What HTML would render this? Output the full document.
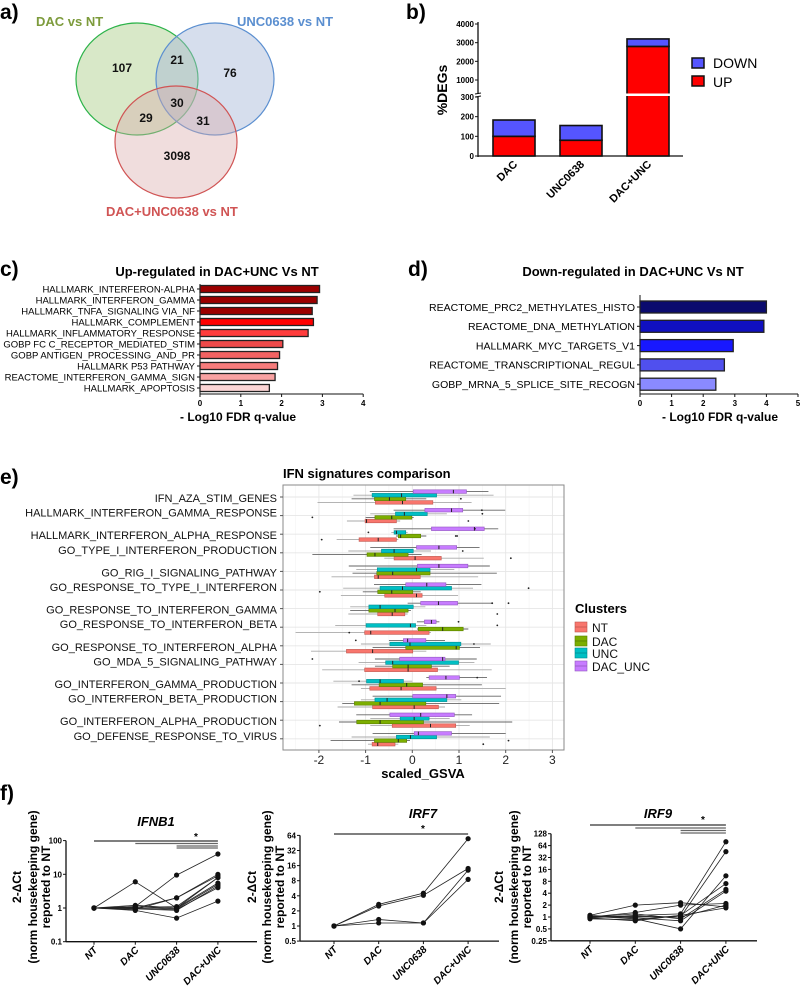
<!DOCTYPE html>
<html><head><meta charset="utf-8"><title>Figure</title>
<style>
html,body{margin:0;padding:0;background:#fff;}
svg{display:block;font-family:"Liberation Sans",Arial,sans-serif;}
</style></head>
<body>
<svg id="fig" width="800" height="990" viewBox="0 0 800 990" xmlns="http://www.w3.org/2000/svg">
<rect x="0" y="0" width="800" height="990" fill="#fff"/>
<text x="0" y="19" font-size="21" font-weight="bold">a)</text>
<text x="406" y="19" font-size="21" font-weight="bold">b)</text>
<text x="0" y="276" font-size="21" font-weight="bold">c)</text>
<text x="408" y="276" font-size="21" font-weight="bold">d)</text>
<text x="0" y="484" font-size="21" font-weight="bold">e)</text>
<text x="0" y="800" font-size="21" font-weight="bold">f)</text>

<g>
<ellipse cx="137" cy="79" rx="61" ry="56" fill="#a9cc84" fill-opacity="0.45" stroke="#2db34a" stroke-width="1.2"/>
<ellipse cx="215" cy="79" rx="59" ry="56" fill="#a3b6d6" fill-opacity="0.45" stroke="#5b8fd0" stroke-width="1.2"/>
<ellipse cx="176" cy="142" rx="61" ry="56" fill="#d9a9a9" fill-opacity="0.4" stroke="#d05454" stroke-width="1.2"/>
<text x="36" y="26" font-size="13" font-weight="bold" fill="#7d9b3c">DAC vs NT</text>
<text x="237" y="26" font-size="13" font-weight="bold" fill="#5b8fd0">UNC0638 vs NT</text>
<text x="106" y="216" font-size="13" font-weight="bold" fill="#d05454">DAC+UNC0638 vs NT</text>
<g font-size="12" font-weight="bold" text-anchor="middle" fill="#111">
<text x="122" y="72">107</text>
<text x="177" y="64">21</text>
<text x="230" y="77">76</text>
<text x="177" y="107">30</text>
<text x="146" y="122">29</text>
<text x="203" y="125">31</text>
<text x="177" y="160">3098</text>
</g>
</g>

<g id="panelB">
<text transform="translate(447,90) rotate(-90)" font-size="14" font-weight="bold" text-anchor="middle">%DEGs</text>
<rect x="692" y="58" width="12" height="10" fill="#5555ff" stroke="#111" stroke-width="1.5"/>
<text x="713" y="68" font-size="14">DOWN</text>
<rect x="692" y="76" width="12" height="10" fill="#ff0000" stroke="#111" stroke-width="1.5"/>
<text x="713" y="87" font-size="14">UP</text>
</g>

<text x="217" y="276" font-size="13" font-weight="bold" text-anchor="middle">Up-regulated in DAC+UNC Vs NT</text>
<text x="633" y="276" font-size="13" font-weight="bold" text-anchor="middle">Down-regulated in DAC+UNC Vs NT</text>
<text x="238" y="421" font-size="12" font-weight="bold" text-anchor="middle">- Log10 FDR q-value</text>
<text x="720" y="421" font-size="12" font-weight="bold" text-anchor="middle">- Log10 FDR q-value</text>
<g id="panelC"></g>
<g id="panelD"></g>

<text x="283" y="478" font-size="13" font-weight="bold">IFN  signatures comparison</text>
<text x="423" y="778" font-size="13" font-weight="bold" text-anchor="middle">scaled_GSVA</text>
<g id="panelE"></g>
<g>
<text x="575" y="613" font-size="13" font-weight="bold">Clusters</text>
<g id="eLegend"></g>
</g>

<g id="panelF"></g>
</svg>
<script>
// ---------- DATA ----------
const bCats = ["DAC", "UNC0638", "DAC+UNC"];
const bUp = [100, 80, 2800];
const bDown = [83, 75, 400];
const bTicksLow = [0, 100, 200, 300];
const bTicksHigh = [1000, 2000, 3000, 4000];

const cLabels = ["HALLMARK_INTERFERON-ALPHA","HALLMARK_INTERFERON_GAMMA","HALLMARK_TNFA_SIGNALING VIA_NF","HALLMARK_COMPLEMENT","HALLMARK_INFLAMMATORY_RESPONSE","GOBP FC C_RECEPTOR_MEDIATED_STIM","GOBP ANTIGEN_PROCESSING_AND_PR","HALLMARK P53 PATHWAY","REACTOME_INTERFERON_GAMMA_SIGN","HALLMARK_APOPTOSIS"];
const cValues = [2.93, 2.87, 2.75, 2.78, 2.65, 2.03, 1.95, 1.90, 1.84, 1.70];
const cTicks = [0, 1, 2, 3, 4];
const dLabels = ["REACTOME_PRC2_METHYLATES_HISTO","REACTOME_DNA_METHYLATION","HALLMARK_MYC_TARGETS_V1","REACTOME_TRANSCRIPTIONAL_REGUL","GOBP_MRNA_5_SPLICE_SITE_RECOGN"];
const dValues = [4.0, 3.92, 2.95, 2.67, 2.4];
const dTicks = [0, 1, 2, 3, 4, 5];

const eCategories = ["IFN_AZA_STIM_GENES","HALLMARK_INTERFERON_GAMMA_RESPONSE","HALLMARK_INTERFERON_ALPHA_RESPONSE","GO_TYPE_I_INTERFERON_PRODUCTION","GO_RIG_I_SIGNALING_PATHWAY","GO_RESPONSE_TO_TYPE_I_INTERFERON","GO_RESPONSE_TO_INTERFERON_GAMMA","GO_RESPONSE_TO_INTERFERON_BETA","GO_RESPONSE_TO_INTERFERON_ALPHA","GO_MDA_5_SIGNALING_PATHWAY","GO_INTERFERON_GAMMA_PRODUCTION","GO_INTERFERON_BETA_PRODUCTION","GO_INTERFERON_ALPHA_PRODUCTION","GO_DEFENSE_RESPONSE_TO_VIRUS"];
const eClusters = ["NT", "DAC", "UNC", "DAC_UNC"];
const eTicks = [-2, -1, 0, 1, 2, 3];
const eNT = [[-0.79,-0.21,0.44,-2.03,1.27],[-1.01,-0.98,-0.34,-1.4,-0.26],[-1.14,-0.73,-0.34,-1.62,-0.3],[-0.39,0.06,0.62,-0.6,1.53],[-0.81,-0.73,0.17,-1.73,1.41],[-0.59,0.09,0.21,-1.53,0.98],[-0.74,-0.43,-0.16,-1.37,-0.1],[-1.02,-0.89,0.36,-2.5,0.4],[-1.41,-0.85,0.01,-2.17,0.3],[-1.02,-0.09,0.54,-1.93,1.7],[-0.91,-0.24,0.51,-1.1,2.0],[-0.85,0.04,0.56,-1.6,0.7],[-0.43,0.39,0.93,-0.9,1.23],[-0.86,-0.74,-0.37,-0.95,-0.3]];
const eDAC = [[-0.81,-0.49,-0.14,-1.3,0.3],[-0.8,-0.44,-0.01,-1.0,0.03],[-0.3,-0.25,0.18,-0.35,0.3],[-0.97,-0.8,-0.09,-2.14,0.2],[-0.76,-0.42,0.38,-1.28,1.81],[-0.74,-0.44,0.01,-1.06,0.18],[-0.93,-0.37,-0.09,-1.33,-0.03],[0.13,0.65,1.09,0.1,1.2],[-0.14,0.94,1.01,-0.85,1.45],[-0.42,-0.09,0.41,-0.8,0.8],[-0.71,-0.12,0.22,-1.3,1.49],[-1.24,-0.69,0.29,-1.5,1.86],[-1.19,-0.69,0.24,-1.57,2.14],[-0.81,-0.3,-0.12,-1.75,-0.05]];
const eUNC = [[-0.86,-0.23,0.52,-1.26,1.74],[-0.36,-0.17,0.32,-0.9,0.74],[-0.39,-0.34,-0.14,-0.45,-0.1],[-0.66,-0.39,0.02,-1.37,0.4],[-0.75,0.09,0.38,-1.2,0.9],[-0.69,-0.21,0.84,-1.48,1.3],[-0.93,-0.69,0.02,-1.33,0.28],[-0.99,-0.04,0.07,-1.65,0.3],[-0.48,-0.05,1.04,-1.1,1.68],[-0.57,-0.42,0.99,-1.15,1.33],[-0.98,-0.69,-0.19,-1.69,0.0],[-0.8,-0.54,0.74,-1.1,1.05],[-0.26,0.04,0.36,-0.9,0.8],[-0.34,-0.04,0.52,-1.3,1.66]];
const eDACUNC = [[0.02,0.88,1.16,-0.91,1.63],[0.27,0.84,1.08,-0.4,1.99],[0.41,1.33,1.54,-0.4,1.84],[0.09,0.57,0.95,-0.9,1.44],[0.11,0.57,1.19,-1.36,1.66],[-0.14,0.31,0.72,-0.82,1.48],[0.18,0.56,0.97,-0.1,1.73],[0.26,0.41,0.51,0.1,0.58],[-0.19,-0.1,0.29,-0.5,0.7],[-0.27,0.65,0.7,-0.8,1.38],[0.36,0.72,1.01,0.3,1.6],[0.01,0.74,0.93,-0.85,1.9],[-0.48,0.18,0.9,-1.2,1.28],[0.04,0.13,0.84,-0.85,2.0]];
const eOutliers = [[0,1,1.04],[1,3,1.49],[1,2,1.5],[1,1,-2.14],[1,0,1.2],[2,3,1.34],[2,2,-0.94],[2,1,0.93],[2,1,0.96],[2,0,-1.94],[3,2,1.08],[3,0,2.11],[5,2,2.49],[5,1,-1.98],[6,3,1.71],[6,3,2.06],[6,0,1.82],[7,3,0.99],[7,2,1.82],[7,0,-1.35],[8,3,-1.21],[8,2,1.32],[9,3,-2.14],[10,3,1.39],[10,2,-1.14],[12,0,-1.98],[13,1,2.06],[13,0,1.52]];

const fCats = ["NT", "DAC", "UNC0638", "DAC+UNC"];
const fIFNB1 = [[1,6,1,8],[1,1.1,9.5,40],[1,1,2,10],[1,0.9,2,9],[1,0.85,0.5,1.6],[1,1.2,1,5.5],[1,1,0.9,4],[1,0.95,0.85,4.5],[1,1.05,1.1,8],[1,1.1,0.95,5]];
const fIRF7 = [[1,2.7,4.5,55],[1,2.5,4.1,14],[1,1.35,1.15,13],[1,1.15,1.15,8.5]];
const fIRF9 = [[1.1,2,2.3,1.8],[1,1.3,2,2.2],[0.95,1.1,1.2,80],[1,1,1,45],[1.05,0.9,0.5,11],[0.9,0.85,1.1,7],[1,1.2,0.9,5],[1.1,0.95,0.8,4.5],[1,1.05,1,2],[0.95,0.8,1.1,1.7]];
const fTicksIFNB1 = ["0.1","1","10","100"];
const fTicksIRF7 = ["0.5","1","2","4","8","16","32","64"];
const fTicksIRF9 = ["0.25","0.5","1","2","4","8","16","32","64","128"];

const NS = "http://www.w3.org/2000/svg";
function mk(parent, tag, attrs, text) {
  const e = document.createElementNS(NS, tag);
  for (const k in attrs) e.setAttribute(k, attrs[k]);
  if (text !== undefined) e.textContent = text;
  parent.appendChild(e);
  return e;
}

(function(){
  const g = document.getElementById("panelB");
  const yB = v => v <= 300 ? 156 - v * (59 / 300) : 98.67 - v * 0.018667;
  const ax = 478, xEnd = 683;
  const barX = [493, 560, 627], bw = 42;
  let e;
  e = mk(g, "line", {x1:ax, y1:22, x2:ax, y2:94, stroke:"#111", "stroke-width":1.3});
  
  
  e = mk(g, "line", {x1:ax, y1:97, x2:ax, y2:157, stroke:"#111", "stroke-width":1.3});
  
  
  mk(g, "line", {x1:ax-3, y1:94, x2:ax+3, y2:93, stroke:"#111", "stroke-width":1});
  mk(g, "line", {x1:ax-3, y1:97, x2:ax+3, y2:96, stroke:"#111", "stroke-width":1});
  e = mk(g, "line", {x1:ax, y1:156, x2:xEnd, y2:156, stroke:"#111", "stroke-width":1.3});
  
  
  bTicksLow.concat(bTicksHigh).forEach(t => {
    const y = yB(t);
    mk(g, "line", {x1:ax-3, y1:y, x2:ax, y2:y, stroke:"#111", "stroke-width":1});
    const tl = mk(g, "text", {x:ax-4, y:y+3, "font-size":8, "font-weight":"bold", "text-anchor":"end"}, String(t));
    
    
  });
  bCats.forEach((c, i) => {
    const x = barX[i];
    const total = bUp[i] + bDown[i];
    const r = mk(g, "rect", {x:x, y:yB(bUp[i]), width:bw, height:156 - yB(bUp[i]), fill:"#ff0000", stroke:"#111", "stroke-width":1.6});
    
    
    const b = mk(g, "rect", {x:x, y:yB(total), width:bw, height:yB(bUp[i]) - yB(total), fill:"#5555ff", stroke:"#111", "stroke-width":1.6});
    
    
    if (bUp[i] > 300) mk(g, "rect", {x:x - 1, y:93.5, width:bw + 2, height:2.5, fill:"#fff"});
    const lt = mk(g, "text", {transform:"translate(" + (x + bw/2 + 4) + ",165) rotate(-45)", "font-size":11, "font-weight":"bold", "text-anchor":"end"}, c);
    
    
  });
})();

function hbar(gid, labels, values, ticks, colors, opt) {
  const g = document.getElementById(gid);
  const xs = v => opt.ax + v * opt.unit;
  let e;
  e = mk(g, "line", {x1:opt.ax, y1:opt.top, x2:opt.ax, y2:opt.base, stroke:"#111", "stroke-width":1});
  
  
  e = mk(g, "line", {x1:opt.ax, y1:opt.base, x2:xs(ticks[ticks.length-1]), y2:opt.base, stroke:"#111", "stroke-width":1});
  
  
  ticks.forEach(t => {
    mk(g, "line", {x1:xs(t), y1:opt.base, x2:xs(t), y2:opt.base+3, stroke:"#111", "stroke-width":1});
    const tl = mk(g, "text", {x:xs(t), y:opt.base+12, "font-size":8, "font-weight":"bold", "text-anchor":"middle"}, String(t));
    
    
  });
  labels.forEach((l, i) => {
    const cy = opt.y0 + i * opt.step;
    mk(g, "line", {x1:opt.ax-3, y1:cy, x2:opt.ax, y2:cy, stroke:"#111", "stroke-width":1});
    const r = mk(g, "rect", {x:opt.ax, y:cy - opt.h/2, width:xs(values[i]) - opt.ax, height:opt.h, fill:colors[i], stroke:"#222", "stroke-width":1.3});
    
    
    const t = mk(g, "text", {x:opt.ax-5, y:cy + opt.fs*0.36, "font-size":opt.fs, "text-anchor":"end"}, l);
    
    
  });
}
hbar("panelC", cLabels, cValues, cTicks,
  ["#9c0000","#9c0000","#9c0000","#ff0000","#ff3c3c","#ef4a4a","#f26262","#f67c7c","#f9a2a2","#fcd5d5"],
  {p:"c", ax:200, unit:40.8, top:284, base:394, y0:289, step:11, h:7, fs:9.5});
hbar("panelD", dLabels, dValues, dTicks,
  ["#0b0b6e","#1010c0","#1818ff","#5050ee","#8a8aff"],
  {p:"d", ax:640, unit:31.6, top:295, base:394, y0:307, step:19.3, h:12, fs:10.5});

(function(){
  const g = document.getElementById("panelE");
  const L = 283, R = 564, T = 485, B = 750;
  const xs = v => 412.3 + v * 46.7;
  const yc = i => 497 + i * 18.6;
  const fills = ["#F8766D","#7CAE00","#00BFC4","#C77CFF"];
  const strokes = ["#c0574f","#5a7f00","#008d91","#9359c0"];
  const series = [eNT, eDAC, eUNC, eDACUNC];
  const offs = [5.4, 1.8, -1.8, -5.4];
  let e;
  e = mk(g, "rect", {x:L, y:T, width:R-L, height:B-T, fill:"#fff", stroke:"none"});
  for (let v = -2.5; v <= 3; v += 0.5) {
    const major = Math.abs(v - Math.round(v)) < 1e-6;
    mk(g, "line", {x1:xs(v), y1:T, x2:xs(v), y2:B, stroke: major ? "#e6e6e6" : "#f3f3f3", "stroke-width": major ? 0.9 : 0.6});
  }
  eCategories.forEach((c, i) => {
    mk(g, "line", {x1:L, y1:yc(i), x2:R, y2:yc(i), stroke:"#e6e6e6", "stroke-width":0.9});
  });
  e = mk(g, "rect", {x:L, y:T, width:R-L, height:B-T, fill:"none", stroke:"#8a8a8a", "stroke-width":1});
  
  
  eTicks.forEach(t => {
    mk(g, "line", {x1:xs(t), y1:B, x2:xs(t), y2:B+3, stroke:"#555", "stroke-width":1});
    const tl = mk(g, "text", {x:xs(t), y:B+14, "font-size":12, "text-anchor":"middle", fill:"#222"}, String(t));
    
    
  });
  eCategories.forEach((c, i) => {
    const cy = yc(i);
    mk(g, "line", {x1:L-3, y1:cy, x2:L, y2:cy, stroke:"#555", "stroke-width":1});
    const ly = cy + (i % 2 === 0 ? 1 : -3) + 4;
    const t = mk(g, "text", {x:L-6, y:ly, "font-size":11, "text-anchor":"end", fill:"#111"}, c);
    
    
    series.forEach((s, k) => {
      const d = s[i], y = cy + offs[k];
      mk(g, "line", {x1:xs(d[3]), y1:y, x2:xs(d[4]), y2:y, stroke: k % 2 ? "#666" : "#aaa", "stroke-width":0.9});
      const r = mk(g, "rect", {x:xs(d[0]), y:y-1.8, width:xs(d[2]) - xs(d[0]), height:3.6, fill:fills[k], stroke:strokes[k], "stroke-width":0.6});
      
      
      mk(g, "line", {x1:xs(d[1]), y1:y-1.8, x2:xs(d[1]), y2:y+1.8, stroke:"#222", "stroke-width":1});
    });
  });
  eOutliers.forEach(o => {
    const p = mk(g, "circle", {cx:xs(o[2]), cy:yc(o[0]) + offs[o[1]], r:0.9, fill:"#222"});
    
    
  });
  const lg = document.getElementById("eLegend");
  eClusters.forEach((c, k) => {
    const y = [628, 642, 654, 667][k];
    const r = mk(lg, "rect", {x:575, y:y-6, width:12, height:10, fill:fills[k], stroke:strokes[k], "stroke-width":0.6});
    
    
    mk(lg, "line", {x1:575, y1:y-1, x2:587, y2:y-1, stroke:strokes[k], "stroke-width":0.8});
    const t = mk(lg, "text", {x:592, y:y+4, "font-size":12, fill:"#111"}, c);
    
    
  });
})();

function fPlot(cfg, series, ticks) {
  const root = document.getElementById("panelF");
  const g = mk(root, "g", {});
  
  
  const xs = i => cfg.cx0 + i * cfg.cstep;
  const ys = v => cfg.y1 - Math.log(v) / Math.log(cfg.base) * cfg.per;
  let e;
  e = mk(g, "text", {x:cfg.tx, y:cfg.ty, "font-size":13, "font-weight":"bold", "font-style":"italic", "text-anchor":"middle"}, cfg.name);
  
  
  const yl = [["2-\u0394Ct", cfg.lx[0]], ["(norm housekeeping gene)", cfg.lx[1]], ["reported to NT", cfg.lx[2]]];
  yl.forEach(l => {
    const t = mk(g, "text", {transform:"translate(" + l[1] + "," + cfg.ly + ") rotate(-90)", "font-size":12, "font-weight":"bold", "text-anchor":"middle"}, l[0]);
    
    
  });
  const yTop = ys(Number(ticks[ticks.length-1])), yBot = ys(Number(ticks[0]));
  e = mk(g, "line", {x1:cfg.ax, y1:yTop, x2:cfg.ax, y2:yBot, stroke:"#111", "stroke-width":1.3});
  
  
  e = mk(g, "line", {x1:cfg.ax, y1:yBot, x2:cfg.xEnd, y2:yBot, stroke:"#111", "stroke-width":1.3});
  
  
  ticks.forEach(t => {
    const y = ys(Number(t));
    mk(g, "line", {x1:cfg.ax-3, y1:y, x2:cfg.ax, y2:y, stroke:"#111", "stroke-width":1});
    const tl = mk(g, "text", {x:cfg.ax-4, y:y+3, "font-size":8, "font-weight":"bold", "text-anchor":"end"}, t);
    
    
  });
  fCats.forEach((c, i) => {
    mk(g, "line", {x1:xs(i), y1:yBot, x2:xs(i), y2:yBot+3, stroke:"#111", "stroke-width":1});
    const tl = mk(g, "text", {transform:"translate(" + (xs(i)+4) + "," + (yBot+9) + ") rotate(-45)", "font-size":10, "font-weight":"bold", "font-style":"italic", "text-anchor":"end"}, c);
    
    
  });
  cfg.sig.forEach(s => {
    const l = mk(g, "line", {x1:xs(s[0]), y1:s[1], x2:xs(3), y2:s[1], stroke: s[0] === 0 ? "#333" : "#666", "stroke-width":1.3});
    
    
  });
  e = mk(g, "text", {x:cfg.star[0], y:cfg.star[1], "font-size":10, "font-weight":"bold", "text-anchor":"middle"}, "*");
  
  
  series.forEach((s, k) => {
    const pts = s.map((v, i) => xs(i).toFixed(1) + "," + ys(v).toFixed(1)).join(" ");
    const pl = mk(g, "polyline", {points:pts, fill:"none", stroke:"#222", "stroke-width":0.8});
    
    
    s.forEach((v, i) => {
      const c = mk(g, "circle", {cx:xs(i), cy:ys(v), r:2.6, fill:"#111"});
      
      
    });
  });
}
fPlot({name:"IFNB1", ax:66, xEnd:257, cx0:94, cstep:41.3, y1:908, per:33.7, base:10, tx:156, ty:826, lx:[21,37,50], ly:887,
  sig:[[0,841],[1,843.5],[2,846],[2,848]], star:[196,840]}, fIFNB1, fTicksIFNB1);
fPlot({name:"IRF7", ax:300, xEnd:499, cx0:334, cstep:44.7, y1:926, per:15.1, base:2, tx:423, ty:818, lx:[256,271,284], ly:887,
  sig:[[0,834]], star:[423,832]}, fIRF7, fTicksIRF7);
fPlot({name:"IRF9", ax:551, xEnd:757, cx0:590, cstep:45.3, y1:917, per:11.9, base:2, tx:658, ty:818, lx:[503,518,531], ly:887,
  sig:[[0,825],[1,828],[2,830.5],[2,833]], star:[703,823]}, fIRF9, fTicksIRF9);
</script>
</body></html>
